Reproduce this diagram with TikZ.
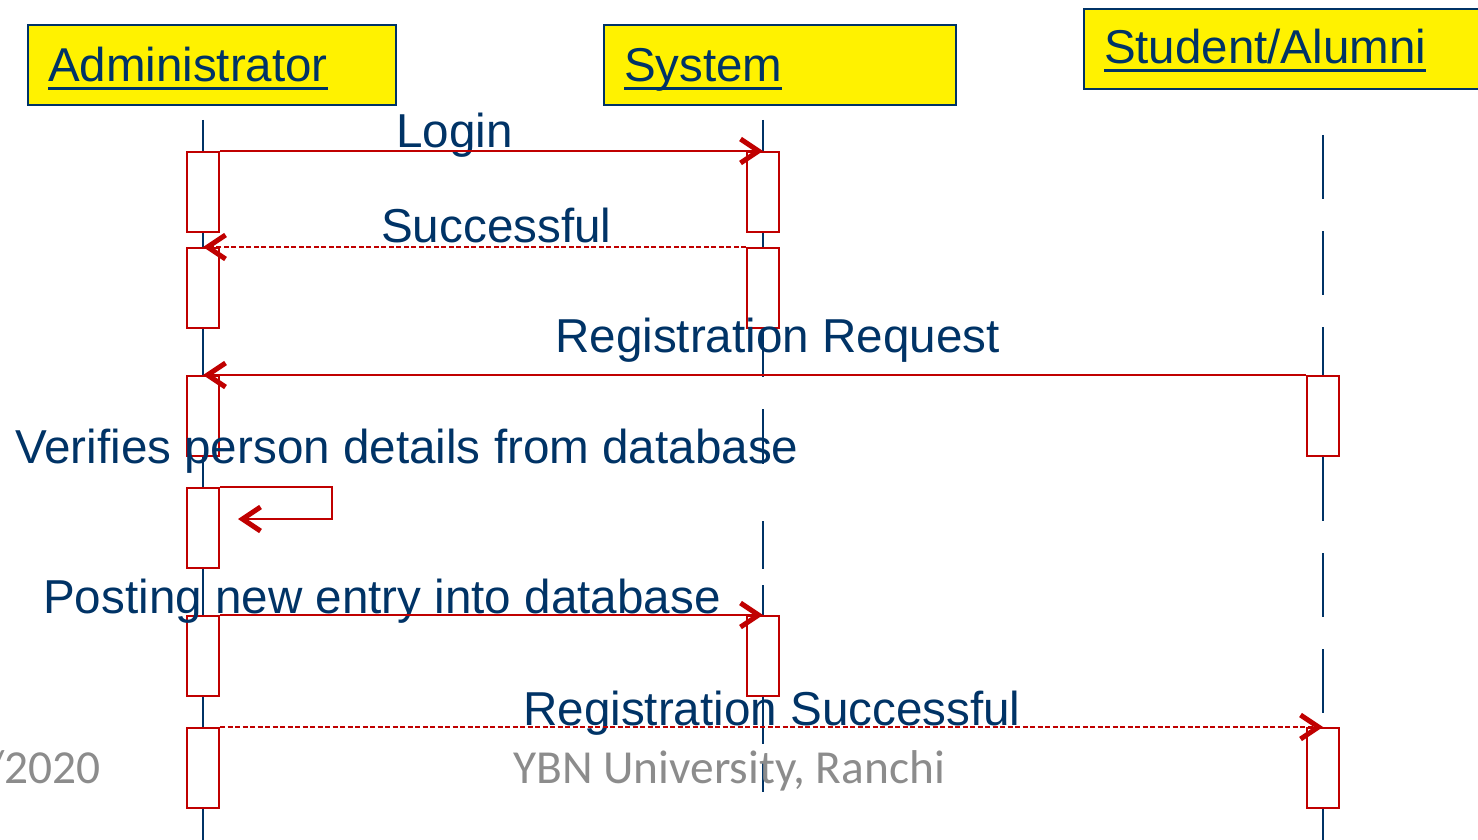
\documentclass[tikz,border=0pt]{standalone}
\usepackage{fontspec}
\setmainfont{Liberation Sans}
\newfontfamily\footfont{Carlito}
\usepackage{xcolor}
\usetikzlibrary{arrows.meta}

\definecolor{navy}{RGB}{0,51,102}
\definecolor{umlred}{RGB}{192,0,0}
\definecolor{footgray}{RGB}{140,140,140}

% underlined header text
\newcommand{\hdul}[1]{\sbox0{#1}\rlap{\rule[-8pt]{\wd0}{3pt}}\usebox0}

\begin{document}
\begin{tikzpicture}[
    x=1pt, y=-1pt,
    actor/.style={rectangle, draw=navy, line width=2pt, fill=yellow, text=navy, align=left, inner xsep=20pt, inner ysep=0pt, minimum height=80pt, text height=40pt, text depth=6pt, font=\fontsize{47.5pt}{56pt}\selectfont},
    act/.style={rectangle, draw=umlred, fill=white, line width=2pt, minimum width=32pt, minimum height=80pt, inner sep=0pt},
    life/.style={draw=navy, line width=1.6pt},
    msg/.style={draw=umlred, line width=1.8pt, ->, >={Straight Barb[length=18pt,width=24pt,line width=5pt]}},
    reply/.style={msg, dash pattern=on 5pt off 2.5pt},
    msgtext/.style={text=navy, anchor=base west, inner sep=0pt, font=\fontsize{47.6pt}{56pt}\selectfont},
    foot/.style={text=footgray, inner sep=0pt, font=\footfont\fontsize{47.4pt}{56pt}\selectfont}
]
\useasboundingbox (0,0) rectangle (1478,840);

% Actors
\node[actor, anchor=north west, text width=328pt] (admin) at (27,24) {\hdul{Administrator}};
\node[actor, anchor=north west, text width=312pt] (system) at (603,24) {\hdul{System}};
\node[actor, anchor=north west, text width=380pt, text height=38pt, text depth=8pt] (student) at (1083,8) {\hdul{Student/Alumni}};

% Activation boxes
\foreach \y [count=\i] in {192,288,416,528,656,768}
    \node[act] (a\i) at (203,\y) {};
\foreach \y [count=\i] in {192,288,656}
    \node[act] (s\i) at (763,\y) {};
\foreach \y [count=\i] in {416,768}
    \node[act] (u\i) at (1323,\y) {};

% Lifelines
\draw[life] (203,120) -- (a1.north);
\foreach \i/\j in {1/2,2/3,3/4,4/5,5/6}
    \draw[life] (a\i.south) -- (a\j.north);
\draw[life] (a6.south) -- (203,840);
\draw[life] (763,120) -- (s1.north);
\draw[life] (s1.south) -- (s2.north);
\draw[life, dash pattern=on 48pt off 32pt on 55pt off 57pt on 48pt off 16pt on 40pt] (s2.south) -- (s3.north);
\draw[life, dash pattern=on 47pt off 17pt on 32pt off 100pt] (s3.south) -- (763,792);
\draw[life, dash pattern=on 64pt off 32pt] (1323,135) -- (u1.north);
\draw[life, dash pattern=on 64pt off 32pt] (u1.south) -- (u2.north);
\draw[life] (u2.south) -- (1323,840);

% Message labels
\node[msgtext] (login) at (396,147) {Login};
\node[msgtext] (succ) at (381,242) {Successful};
\node[msgtext] (regreq) at (555,352) {Registration Request};
\node[msgtext] (verify) at (15,463) {Verifies person details from database};
\node[msgtext] (post) at (43,613) {Posting new entry into database};
\node[msgtext] (regsucc) at (523,725) {Registration Successful};

% Messages
\draw[msg] (a1.north east) -- (s1.north);
\draw[reply] (s2.north west) -- (a2.north);
\draw[msg] (u1.north west) -- (a3.north);
\draw[msg] (a4.north east) -- ++(112,0) -- ++(0,32) -- ++(-94,0);
\draw[msg] (a5.north east) -- (s3.north);
\draw[reply] (a6.north east) -- (u2.north);

% Footer
\node[foot, anchor=base east] (date) at (101,783) {/2020};
\node[foot, anchor=base west] (univ) at (513,783) {YBN University, Ranchi};

\end{tikzpicture}
\end{document}
